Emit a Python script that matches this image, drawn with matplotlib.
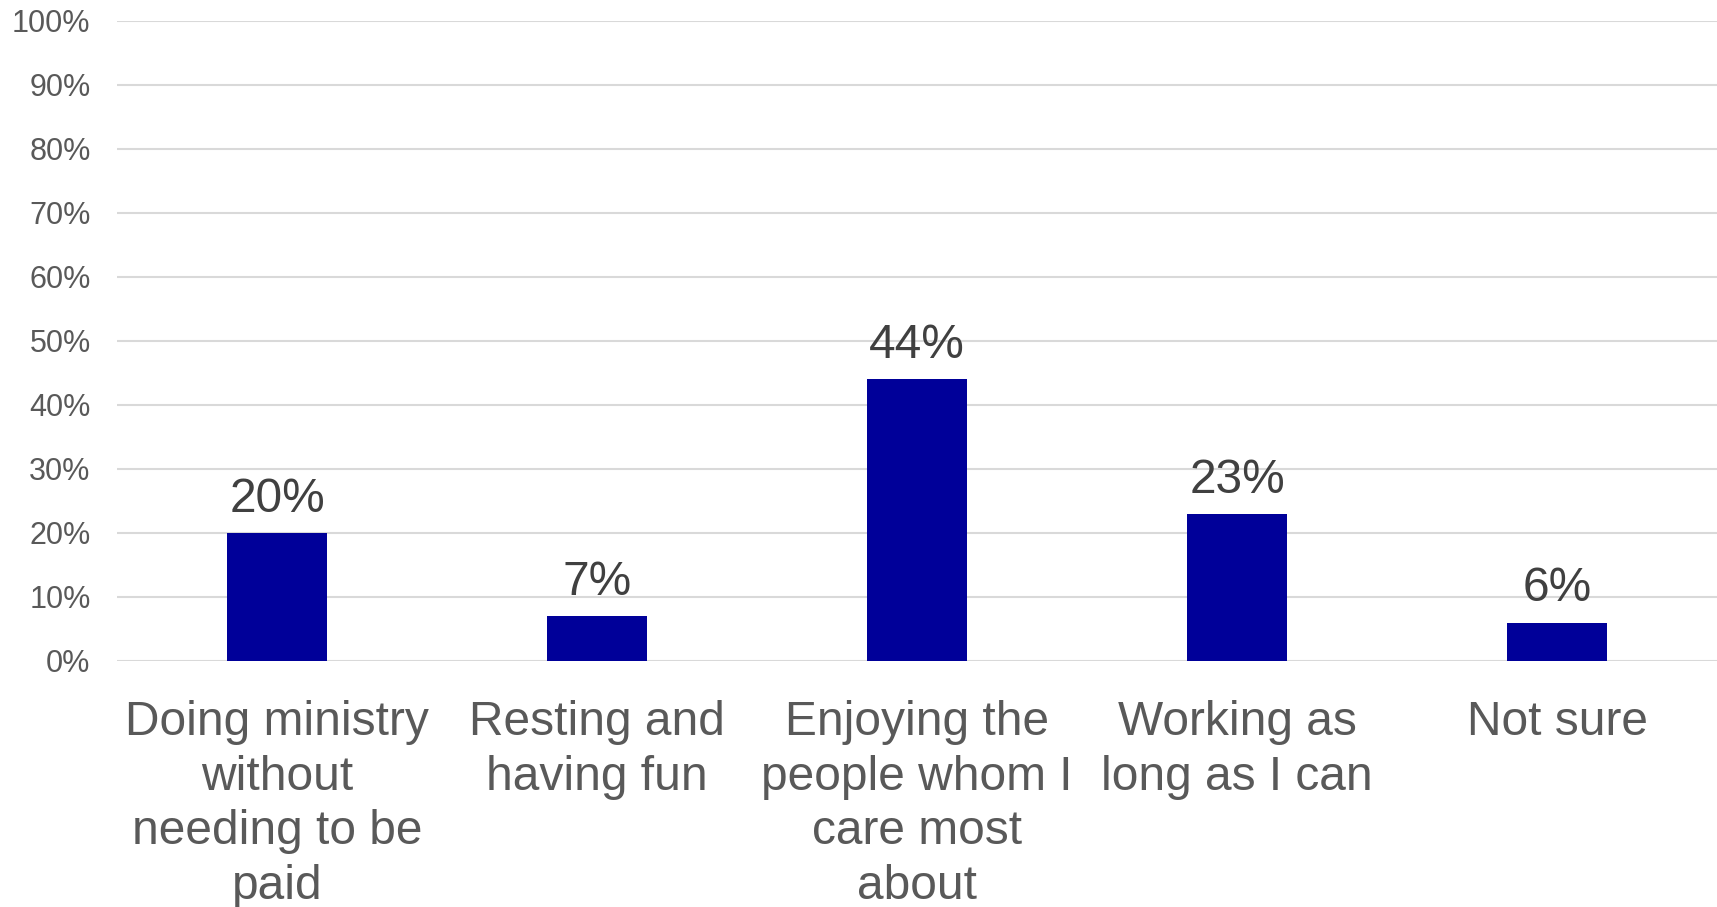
import numpy as np
import matplotlib
matplotlib.use("Agg")
import matplotlib.pyplot as plt

categories = [
    "Doing ministry\nwithout\nneeding to be\npaid",
    "Resting and\nhaving fun",
    "Enjoying the\npeople whom I\ncare most\nabout",
    "Working as\nlong as I can",
    "Not sure",
]
values = [20, 7, 44, 23, 6]
y_ticks = list(range(0, 101, 10))
y_tick_labels = [f"{t}%" for t in y_ticks]

plt.rcParams["font.family"] = ["Liberation Sans", "DejaVu Sans"]

fig = plt.figure(figsize=(17.17, 9.07), dpi=100)
ax = fig.add_axes([117 / 1717, 1 - 661 / 907, 1 - 117 / 1717, 640 / 907])

x = np.arange(len(categories))
bars = ax.bar(x, values, width=0.31, color="#000099", zorder=3)

# data labels above the bars
for xi, v in zip(x, values):
    ax.annotate(f"{v}%", (xi, v), xytext=(0, 8), textcoords="offset points",
                ha="center", va="bottom", fontsize=34.5, color="#404040")

ax.set_xlim(-0.5, len(categories) - 0.5)
ax.set_ylim(0, 100)
ax.set_yticks(y_ticks)
ax.set_yticklabels(y_tick_labels)
ax.set_xticks(x)
ax.set_xticklabels(categories, linespacing=1.28)

ax.tick_params(axis="y", length=0, pad=19, labelsize=22, labelcolor="#595959")
ax.tick_params(axis="x", length=0, pad=28, labelsize=34.5, labelcolor="#595959")
ax.yaxis.grid(True, color="#d9d9d9", linewidth=1.5, zorder=0)
ax.set_axisbelow(True)
for s in ax.spines.values():
    s.set_visible(False)

fig.savefig("out.png", dpi=100)
